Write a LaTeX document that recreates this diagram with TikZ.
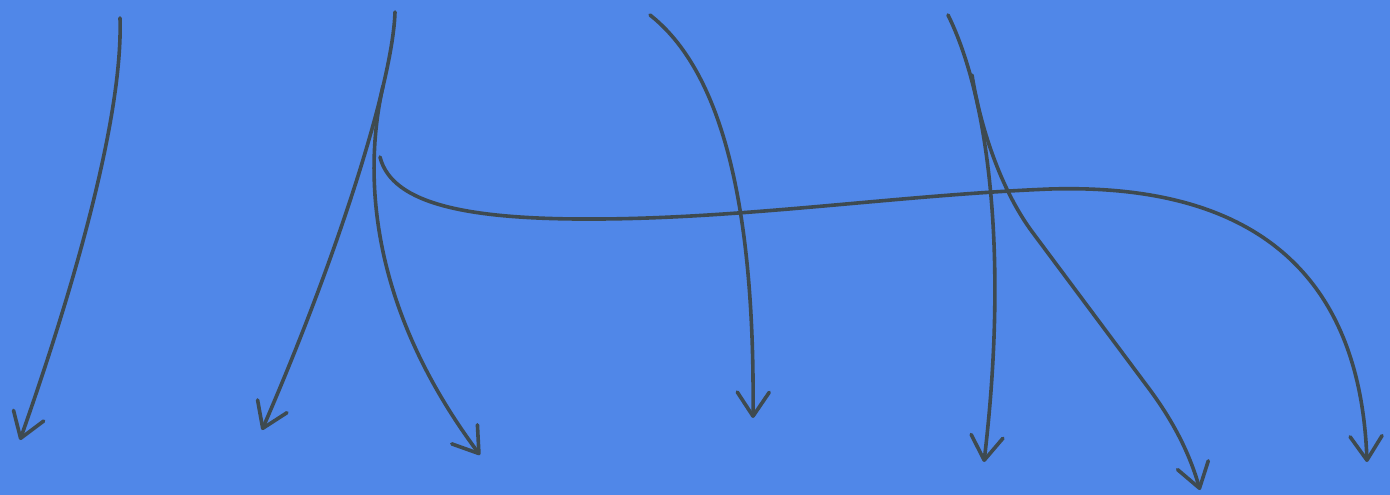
\documentclass[tikz,border=0pt]{standalone}
\usetikzlibrary{arrows.meta}
\definecolor{paper}{RGB}{80,135,232}
\definecolor{ink}{RGB}{62,74,80}
\tikzset{
  pen/.style={draw=ink, line width=3.6pt, line cap=round, line join=round},
  arr/.style={pen, -{Straight Barb[length=24pt,width=32pt,line cap=round,line join=round]}},
}
\begin{document}
\begin{tikzpicture}[x=1pt,y=-1pt]
\fill[paper] (0,0) rectangle (1390,495);
\useasboundingbox (0,0) rectangle (1390,495);
% endpoints
\coordinate (a0) at (120,18);  \coordinate (a1) at (20,440);
\coordinate (b0) at (395,12);  \coordinate (b1) at (262,430);
\coordinate (c0) at (383,86);  \coordinate (c1) at (480,455);
\coordinate (d0) at (380,157); \coordinate (d1) at (1367,462);
\coordinate (e0) at (650,15);  \coordinate (e1) at (753,418);
\coordinate (f0) at (948,15);  \coordinate (f1) at (984,462);
\coordinate (g0) at (972,75);  \coordinate (g1) at (1200,490);
% arrows
\draw[arr] (a0) .. controls (123,110) and (80,270) .. (a1);
\draw[arr] (b0) .. controls (393,80) and (340,250) .. (b1);
\draw[arr] (c0) .. controls (362,180) and (372,310) .. (c1);
\draw[arr] (d0) .. controls (392,205) and (470,220) .. (600,219)
               .. controls (750,218) and (900,195) .. (1050,189)
               .. controls (1250,183) and (1360,270) .. (d1);
\draw[arr] (e0) .. controls (720,70) and (755,200) .. (e1);
\draw[arr] (f0) .. controls (990,100) and (1008,260) .. (f1);
\draw[arr] (g0) .. controls (980,125) and (1000,189) .. (1033,233)
               -- (1150,390) .. controls (1175,424) and (1190,455) .. (g1);
\end{tikzpicture}
\end{document}
